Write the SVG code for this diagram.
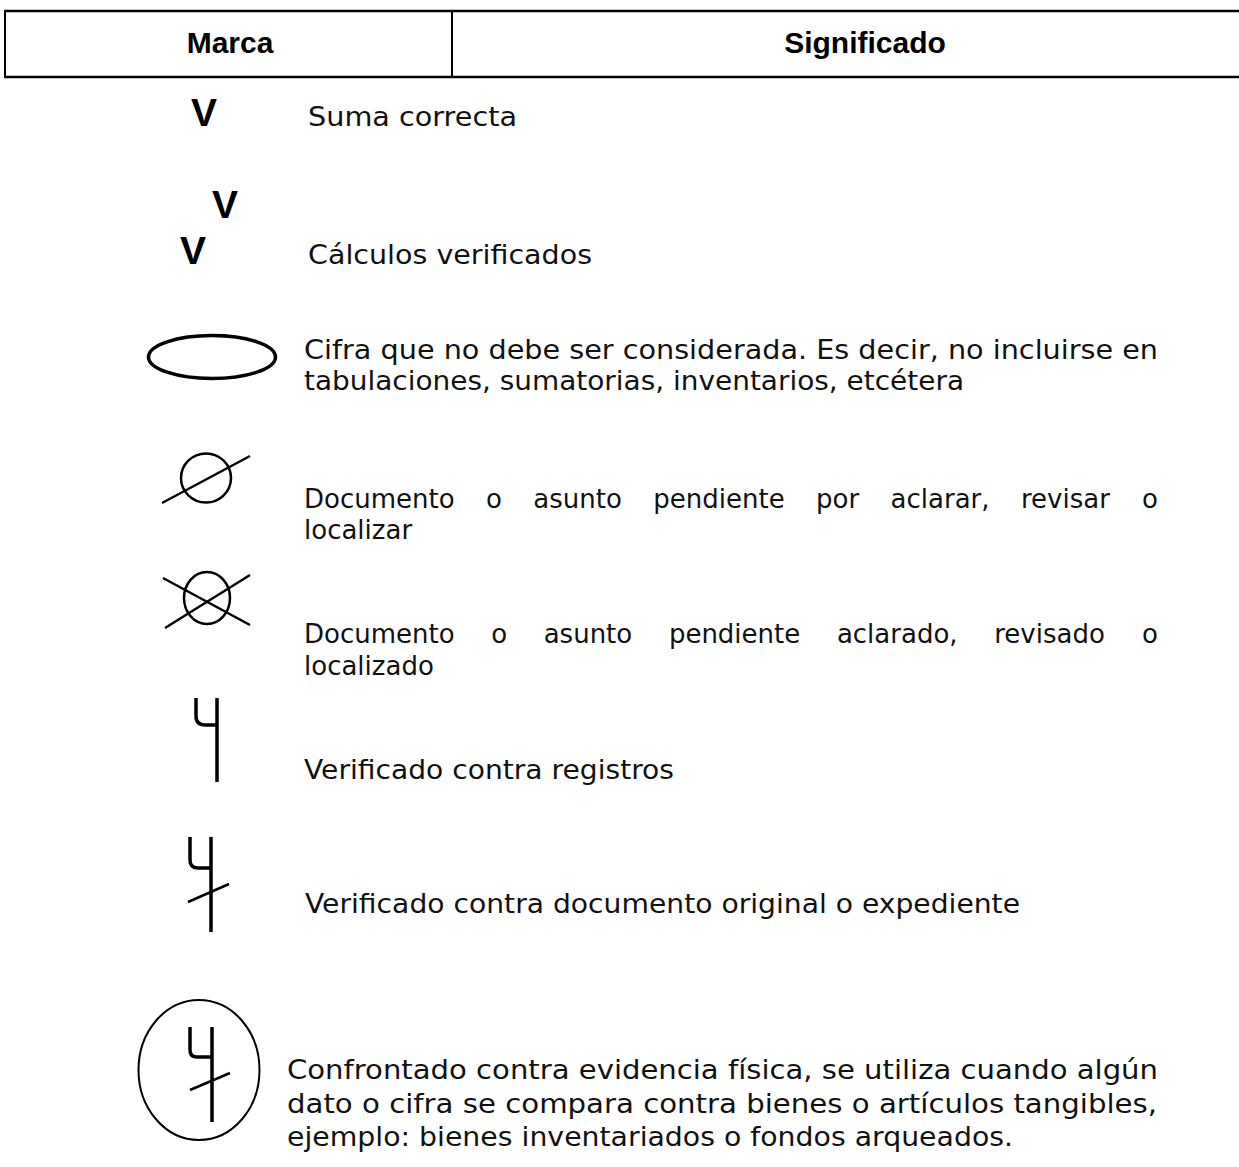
<svg xmlns="http://www.w3.org/2000/svg" width="1239" height="1167" viewBox="0 0 1239 1167">
<style>
.t{font-family:"DejaVu Sans","Liberation Sans",sans-serif;font-size:26px;fill:#111}
.h{font-family:"Liberation Sans",Arial,sans-serif;font-size:30px;font-weight:bold;fill:#000}
.v{font-family:"Liberation Sans",Arial,sans-serif;font-size:39px;font-weight:bold;fill:#000}
.ln{stroke:#000;fill:none}
</style>
<rect width="1239" height="1167" fill="#fff"/>
<g id="header">
<line class="ln" x1="4" y1="11" x2="1239" y2="11" stroke-width="2.5"/>
<line class="ln" x1="4" y1="77" x2="1239" y2="77" stroke-width="2.5"/>
<line class="ln" x1="5" y1="10" x2="5" y2="78" stroke-width="2"/>
<line class="ln" x1="452" y1="11" x2="452" y2="77" stroke-width="2"/>
<text class="h" x="230" y="53" text-anchor="middle">Marca</text>
<text class="h" x="865" y="53" text-anchor="middle">Significado</text>
</g>
<g id="row-suma">
<text class="v" x="204" y="126" text-anchor="middle">V</text>
<text class="t" x="308" y="126" textLength="209" lengthAdjust="spacingAndGlyphs">Suma correcta</text>
</g>
<g id="row-calculos">
<text class="v" x="225" y="218" text-anchor="middle">V</text>
<text class="v" x="193" y="264" text-anchor="middle">V</text>
<text class="t" x="308" y="264" textLength="284" lengthAdjust="spacingAndGlyphs">Cálculos verificados</text>
</g>
<g id="row-cifra">
<ellipse class="ln" cx="212" cy="357" rx="63.5" ry="21.5" stroke-width="3.5"/>
<text class="t" x="304" y="359" textLength="854" lengthAdjust="spacingAndGlyphs">Cifra que no debe ser considerada. Es decir, no incluirse en</text>
<text class="t" x="304" y="390" textLength="660" lengthAdjust="spacingAndGlyphs">tabulaciones, sumatorias, inventarios, etcétera</text>
</g>
<g id="row-pendiente">
<ellipse class="ln" cx="206" cy="478" rx="25" ry="24.5" stroke-width="2.5"/>
<line class="ln" x1="162" y1="503" x2="250" y2="456" stroke-width="2.5"/>
<text class="t" y="508"><tspan x="304">Documento</tspan><tspan x="486">o</tspan><tspan x="533.3">asunto</tspan><tspan x="653.3">pendiente</tspan><tspan x="816.1">por</tspan><tspan x="890.6">aclarar,</tspan><tspan x="1021">revisar</tspan><tspan x="1142">o</tspan></text>
<text class="t" x="304" y="539">localizar</text>
</g>
<g id="row-aclarado">
<ellipse class="ln" cx="207" cy="598" rx="23" ry="26" stroke-width="2.5"/>
<line class="ln" x1="163" y1="578" x2="250" y2="625" stroke-width="2.5"/>
<line class="ln" x1="165" y1="628" x2="250" y2="575" stroke-width="2.5"/>
<text class="t" y="643"><tspan x="304">Documento</tspan><tspan x="491.2">o</tspan><tspan x="543.7">asunto</tspan><tspan x="668.9">pendiente</tspan><tspan x="836.9">aclarado,</tspan><tspan x="994.2">revisado</tspan><tspan x="1142">o</tspan></text>
<text class="t" x="304" y="675">localizado</text>
</g>
<g id="row-registros">
<path class="ln" d="M196,698 V716 Q196,725 205,725 H217 M217,698 V782" stroke-width="3.5"/>
<text class="t" x="304" y="779" textLength="370" lengthAdjust="spacingAndGlyphs">Verificado contra registros</text>
</g>
<g id="row-documento">
<path class="ln" d="M190,837 V860 Q190,868 198,868 H211 M211,837 V932" stroke-width="3.5"/>
<line class="ln" x1="188" y1="902" x2="229" y2="884" stroke-width="2.5"/>
<text class="t" x="305" y="913" textLength="715" lengthAdjust="spacingAndGlyphs">Verificado contra documento original o expediente</text>
</g>
<g id="row-confrontado">
<ellipse class="ln" cx="199" cy="1070" rx="60.5" ry="70" stroke-width="2"/>
<path class="ln" d="M190,1027 V1050 Q190,1057 197,1057 H212 M212,1027 V1122" stroke-width="3.5"/>
<line class="ln" x1="190" y1="1090" x2="230" y2="1073" stroke-width="2.5"/>
<text class="t" x="287" y="1079" textLength="871" lengthAdjust="spacingAndGlyphs">Confrontado contra evidencia física, se utiliza cuando algún</text>
<text class="t" x="287" y="1113" textLength="870" lengthAdjust="spacingAndGlyphs">dato o cifra se compara contra bienes o artículos tangibles,</text>
<text class="t" x="287" y="1146" textLength="726" lengthAdjust="spacingAndGlyphs">ejemplo: bienes inventariados o fondos arqueados.</text>
</g>
</svg>
